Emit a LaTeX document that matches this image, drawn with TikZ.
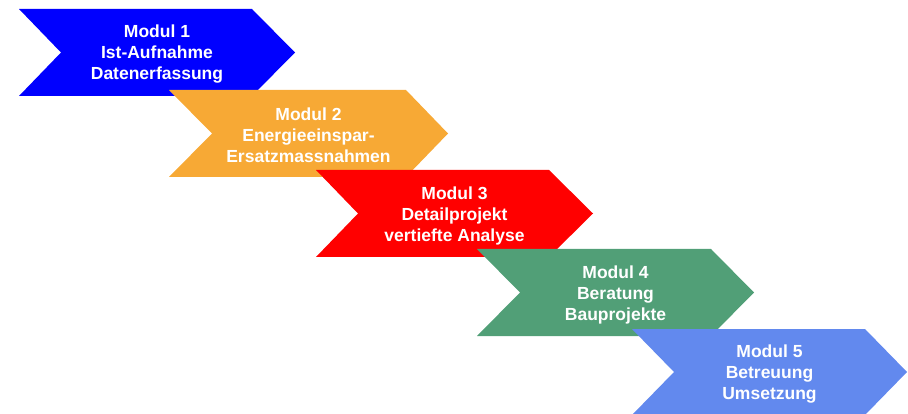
\documentclass[tikz,border=0pt]{standalone}
\usepackage{fontspec}
\setmainfont{Liberation Sans}
\newlength{\du}
\setlength{\du}{1pt}
\definecolor{modulblue}{rgb}{0.000000, 0.000000, 1.000000}
\definecolor{modulorange}{rgb}{0.968627, 0.662745, 0.207843}
\definecolor{modulred}{rgb}{1.000000, 0.000000, 0.000000}
\definecolor{modulgreen}{rgb}{0.317647, 0.623529, 0.466667}
\definecolor{modullight}{rgb}{0.384314, 0.537255, 0.933333}
\tikzset{
  chevron/.style={draw=none},
  modultext/.style={text=white, align=center, font=\bfseries\fontsize{17.5}{21}\selectfont}
}

\begin{document}
\begin{tikzpicture}
\pgftransformxscale{1.000000}
\pgftransformyscale{-1.000000}
\useasboundingbox (0\du,0\du) rectangle (908\du,414\du);
% Modul 1
\fill[chevron, modulblue] (19.000000\du,9.000000\du)--(252.000000\du,9.000000\du)--(295.000000\du,52.500000\du)--(252.000000\du,96.000000\du)--(19.000000\du,96.000000\du)--(61.000000\du,52.500000\du)--cycle;
\node[modultext] (m1) at (157.000000\du,54.500000\du){Modul 1\\Ist-Aufnahme\\Datenerfassung};
% Modul 2
\fill[chevron, modulorange] (169.000000\du,90.000000\du)--(406.000000\du,90.000000\du)--(448.000000\du,133.500000\du)--(406.000000\du,177.000000\du)--(169.000000\du,177.000000\du)--(212.000000\du,133.500000\du)--cycle;
\node[modultext] (m2) at (308.500000\du,135.500000\du){Modul 2\\Energieeinspar-\\Ersatzmassnahmen};
% Modul 3
\fill[chevron, modulred] (316.000000\du,170.000000\du)--(549.000000\du,170.000000\du)--(593.000000\du,213.500000\du)--(549.000000\du,257.000000\du)--(316.000000\du,257.000000\du)--(358.000000\du,213.500000\du)--cycle;
\node[modultext] (m3) at (454.500000\du,215.500000\du){Modul 3\\Detailprojekt\\vertiefte Analyse};
% Modul 4
\fill[chevron, modulgreen] (477.000000\du,249.000000\du)--(711.000000\du,249.000000\du)--(754.000000\du,292.500000\du)--(711.000000\du,336.000000\du)--(477.000000\du,336.000000\du)--(520.000000\du,292.500000\du)--cycle;
\node[modultext] (m4) at (615.500000\du,294.500000\du){Modul 4\\Beratung\\Bauprojekte};
% Modul 5
\fill[chevron, modullight] (632.000000\du,329.000000\du)--(865.000000\du,329.000000\du)--(907.000000\du,372.000000\du)--(865.000000\du,415.000000\du)--(632.000000\du,415.000000\du)--(674.000000\du,372.000000\du)--cycle;
\node[modultext] (m5) at (769.500000\du,374.000000\du){Modul 5\\Betreuung\\Umsetzung};
\end{tikzpicture}
\end{document}
